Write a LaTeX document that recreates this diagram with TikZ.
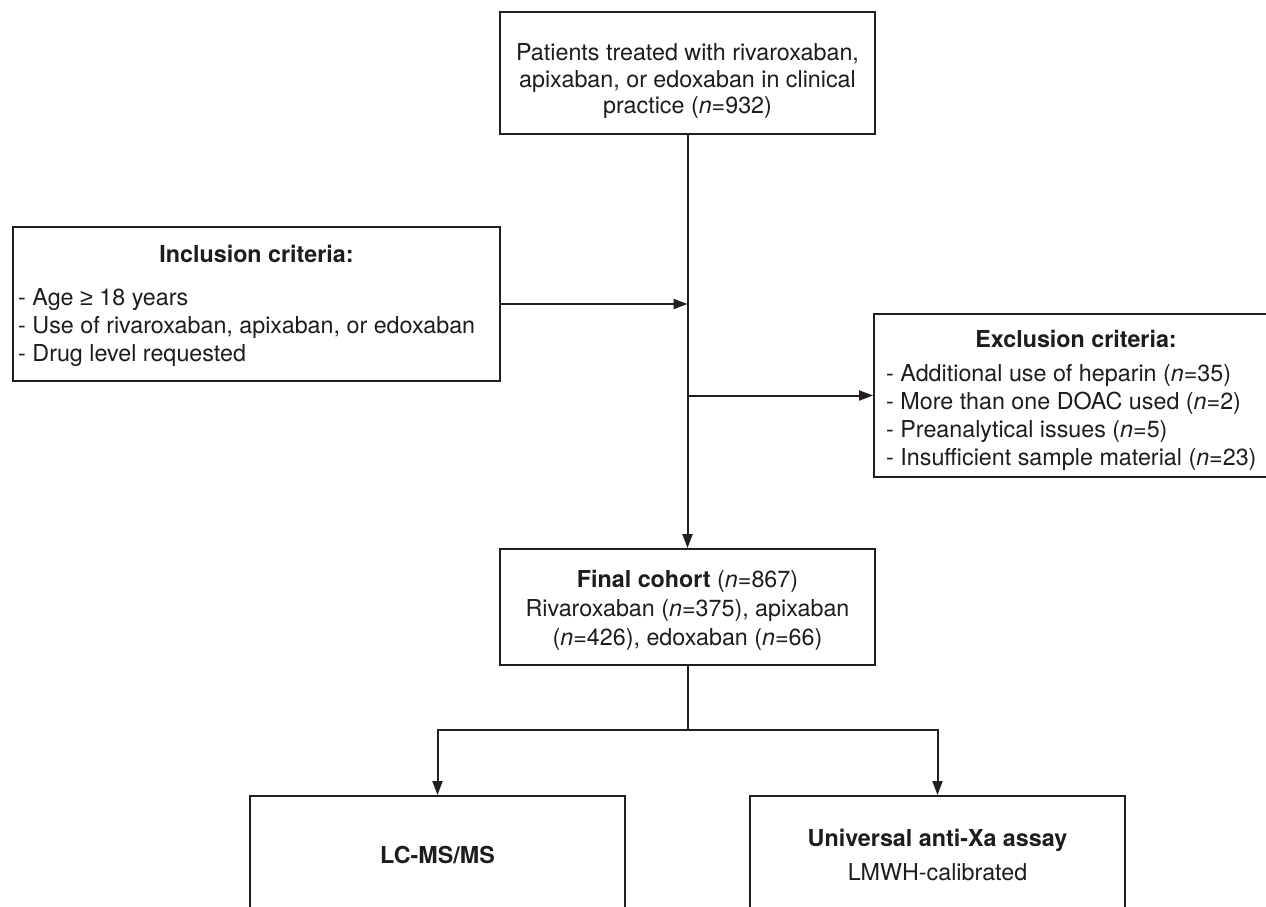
\documentclass[tikz,border=0pt]{standalone}
\usepackage{fontspec}
\setmainfont{TeX Gyre Heros}
\newfontfamily\symfont{Liberation Sans}
\usetikzlibrary{arrows.meta}
\definecolor{linec}{RGB}{35,31,32}
\definecolor{textc}{RGB}{30,28,28}
\begin{document}
\begin{tikzpicture}[x=1pt,y=-1pt,
  box/.style={draw=linec, line width=2pt, inner sep=0pt},
  txt/.style={anchor=base, inner sep=0pt, text=textc, font=\fontsize{23.3}{27}\selectfont},
  txtl/.style={txt, anchor=base west},
  conn/.style={draw=linec, line width=2pt},
  arr/.style={conn, -{Triangle[length=14pt,width=10pt]}}
]
\clip (0,0) rectangle (1266,907);
\fill[white] (0,0) rectangle (1266,907);

% boxes
\node[box, minimum width=375pt, minimum height=122pt] (top) at (687.5,73) {};
\node[box, minimum width=487pt, minimum height=154pt] (incl) at (256.5,304) {};
\node[box, minimum width=404pt, minimum height=163pt] (excl) at (1076,395.5) {};
\node[box, minimum width=375pt, minimum height=116pt] (final) at (687.5,607) {};
\node[box, minimum width=375pt, minimum height=150pt] (lc) at (437.5,871) {};
\node[box, minimum width=375pt, minimum height=150pt] (ua) at (937.5,871) {};

% top box text
\node[txt] (t1) at (687.5,61) {Patients treated with rivaroxaban,};
\node[txt] (t2) at (687.5,87) {apixaban, or edoxaban in clinical};
\node[txt] (t3) at (687.5,113) {practice (\textit{n}=932)};

% inclusion text
\node[txt] (i0) at (256.5,262) {\bfseries Inclusion criteria:};
\node[txtl] (i1) at (18,305) {- Age {\symfont ≥} 18 years};
\node[txtl] (i2) at (18,333) {- Use of rivaroxaban, apixaban, or edoxaban};
\node[txtl] (i3) at (18,361) {- Drug level requested};

% exclusion text
\node[txt] (e0) at (1076,347) {\bfseries Exclusion criteria:};
\node[txtl] (e1) at (886,381) {- Additional use of heparin (\textit{n}=35)};
\node[txtl] (e2) at (886,409) {- More than one DOAC used (\textit{n}=2)};
\node[txtl] (e3) at (886,437) {- Preanalytical issues (\textit{n}=5)};
\node[txtl] (e4) at (886,465) {- Insufficient sample material (\textit{n}=23)};

% final cohort text
\node[txt] (f1) at (687.5,587) {\textbf{Final cohort} (\textit{n}=867)};
\node[txt] (f2) at (687.5,616) {Rivaroxaban (\textit{n}=375), apixaban};
\node[txt] (f3) at (687.5,645) {(\textit{n}=426), edoxaban (\textit{n}=66)};

% bottom boxes text
\node[txt] (l1) at (437.5,863) {\bfseries LC-MS/MS};
\node[txt] (u1) at (937.5,846) {\bfseries Universal anti-Xa assay};
\node[txt] (u2) at (937.5,880) {LMWH-calibrated};

% connectors
\draw[arr] (top.south) -- (final.north);
\draw[arr] (incl.east) -- (incl.east -| top.south);
\coordinate (br) at (top.south |- excl.west);
\draw[arr] (br) -- (excl.west);
\coordinate (j) at (687.5,730);
\draw[conn] (final.south) -- (j);
\draw[arr] (j) -| (lc.north);
\draw[arr] (j) -| (ua.north);
\end{tikzpicture}
\end{document}
